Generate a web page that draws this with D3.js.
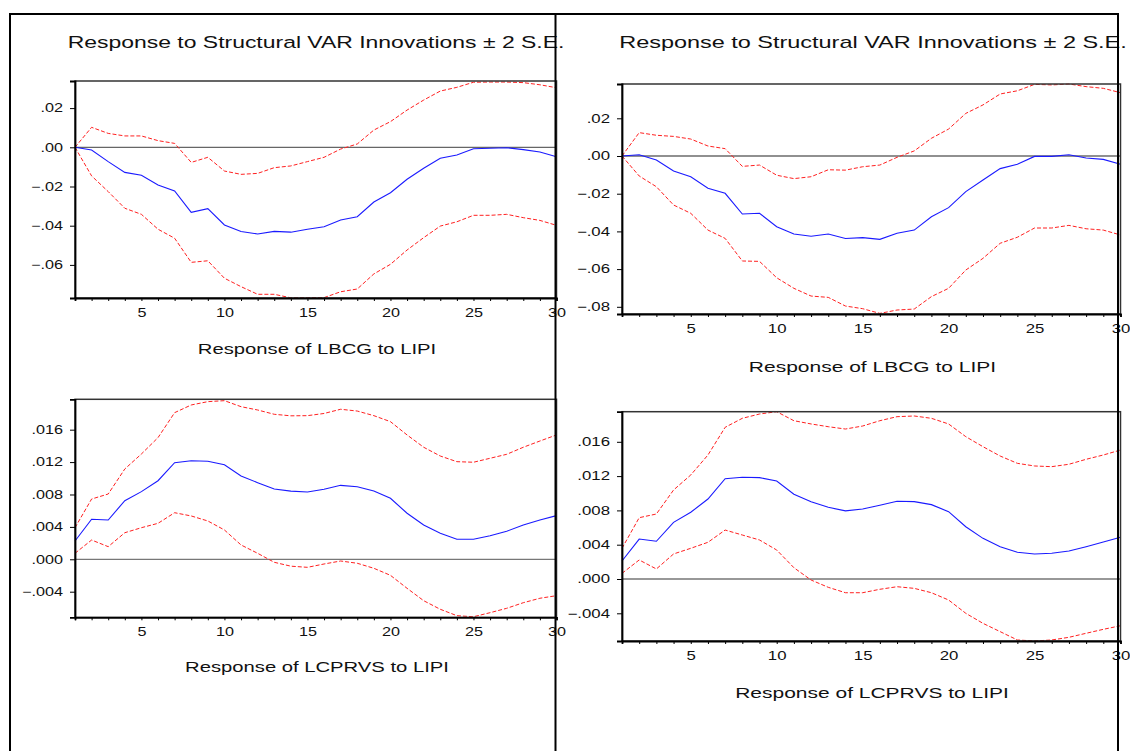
<!DOCTYPE html>
<html>
<head>
<meta charset="utf-8">
<script src="https://cdn.jsdelivr.net/npm/d3@7"></script>
<style>
  html, body { margin: 0; padding: 0; background: #fff; }
  svg { display: block; font-family: Arial, "Liberation Sans", sans-serif; }
</style>
</head>
<body>
<script>
// data
var periods = [1,2,3,4,5,6,7,8,9,10,11,12,13,14,15,16,17,18,19,20,21,22,23,24,25,26,27,28,29,30];
var xTickLabels = [5, 10, 15, 20, 25, 30];
var lbcgTicksA = [0.02, 0.00, -0.02, -0.04, -0.06];
var lbcgTicksB = [0.02, 0.00, -0.02, -0.04, -0.06, -0.08];
var lcprvsTicks = [0.016, 0.012, 0.008, 0.004, 0.000, -0.004];

var titleText = "Response to Structural VAR Innovations \u00b1 2 S.E.";
var lbcgLabel = "Response of LBCG to LIPI";
var lcprvsLabel = "Response of LCPRVS to LIPI";

// left panel
var lbcgRespA  = [0.0000,-0.0014,-0.0073,-0.0128,-0.0143,-0.0192,-0.0223,-0.0332,-0.0313,-0.0396,-0.0430,-0.0442,-0.0429,-0.0433,-0.0418,-0.0405,-0.0371,-0.0354,-0.0279,-0.0232,-0.0163,-0.0107,-0.0056,-0.0039,-0.0007,-0.0005,-0.0002,-0.0012,-0.0024,-0.0048];
var lbcgUpperA = [0.0000,0.0102,0.0071,0.0058,0.0058,0.0034,0.0020,-0.0077,-0.0051,-0.0121,-0.0138,-0.0133,-0.0104,-0.0095,-0.0073,-0.0051,-0.0009,0.0017,0.0088,0.0131,0.0190,0.0241,0.0287,0.0306,0.0332,0.0333,0.0333,0.0330,0.0319,0.0304];
var lbcgLowerA = [0.0000,-0.0146,-0.0226,-0.0311,-0.0342,-0.0418,-0.0464,-0.0587,-0.0579,-0.0668,-0.0711,-0.0750,-0.0750,-0.0768,-0.0767,-0.0767,-0.0737,-0.0723,-0.0646,-0.0597,-0.0524,-0.0461,-0.0402,-0.0380,-0.0347,-0.0347,-0.0342,-0.0359,-0.0373,-0.0398];

var lcprvsRespA  = [0.00226,0.00494,0.00485,0.00724,0.00835,0.0097,0.01193,0.01217,0.0121,0.01168,0.01028,0.00946,0.00868,0.00842,0.00831,0.00864,0.00913,0.00896,0.00843,0.00753,0.00568,0.00423,0.00321,0.00247,0.00247,0.00291,0.00346,0.00423,0.00485,0.00539];
var lcprvsUpperA = [0.0039,0.00744,0.00806,0.01115,0.0130,0.01502,0.0181,0.01905,0.01946,0.01958,0.01884,0.01843,0.0179,0.01771,0.01773,0.0180,0.01852,0.0183,0.01773,0.01699,0.01535,0.01383,0.01275,0.01205,0.01198,0.01247,0.01296,0.01383,0.0146,0.01535];
var lcprvsLowerA = [0.00074,0.00238,0.00156,0.00328,0.0039,0.00444,0.00575,0.00535,0.00473,0.00362,0.00177,0.00074,-0.00037,-0.00085,-0.00099,-0.00058,-0.00021,-0.00049,-0.00111,-0.00198,-0.00358,-0.00511,-0.00617,-0.00696,-0.00709,-0.00659,-0.00605,-0.00536,-0.00481,-0.00449];

// right panel
var lbcgRespB  = [0.0000,0.0007,-0.0021,-0.0080,-0.0110,-0.0171,-0.0198,-0.0308,-0.0304,-0.0375,-0.0414,-0.0426,-0.0414,-0.0438,-0.0433,-0.0442,-0.0410,-0.0393,-0.0322,-0.0274,-0.0189,-0.0127,-0.0067,-0.0044,-0.0002,-0.0002,0.0007,-0.0011,-0.0018,-0.0044];
var lbcgUpperB = [0.0000,0.0124,0.0110,0.0104,0.0090,0.0053,0.0039,-0.0055,-0.0048,-0.0102,-0.0120,-0.0110,-0.0073,-0.0075,-0.0057,-0.0048,-0.0007,0.0027,0.0094,0.0143,0.0226,0.0271,0.0329,0.0346,0.0380,0.0377,0.0382,0.0368,0.0359,0.0336];
var lbcgLowerB = [0.0000,-0.0106,-0.0163,-0.0260,-0.0304,-0.0393,-0.0437,-0.0557,-0.0559,-0.0646,-0.0702,-0.0743,-0.0750,-0.0796,-0.0810,-0.0835,-0.0817,-0.0812,-0.0746,-0.0702,-0.0605,-0.0543,-0.0463,-0.0431,-0.0382,-0.0382,-0.0368,-0.0386,-0.0393,-0.0419];

var lcprvsRespB  = [0.0021,0.00466,0.0044,0.00661,0.00778,0.00933,0.0117,0.01186,0.01182,0.01143,0.00988,0.00902,0.00836,0.00795,0.00816,0.0086,0.00906,0.00902,0.00867,0.00785,0.0061,0.00474,0.00377,0.00311,0.00292,0.0030,0.00327,0.00377,0.00431,0.00486];
var lcprvsUpperB = [0.00358,0.00715,0.00758,0.01038,0.01213,0.01446,0.01769,0.01874,0.01924,0.01951,0.01846,0.01808,0.01776,0.01749,0.01784,0.01846,0.01893,0.01901,0.01874,0.01808,0.0166,0.01543,0.01434,0.01349,0.01318,0.0131,0.01338,0.01396,0.01446,0.01504];
var lcprvsLowerB = [0.00066,0.00222,0.00117,0.00292,0.00358,0.00428,0.00571,0.00513,0.00455,0.00338,0.00132,-0.00012,-0.00097,-0.0016,-0.0016,-0.0012,-0.0009,-0.00109,-0.0016,-0.00245,-0.004,-0.00517,-0.00614,-0.00711,-0.00723,-0.00711,-0.0068,-0.00633,-0.00587,-0.00545];

// graph
var svg = d3.select("body").append("svg")
    .attr("width", 1130)
    .attr("height", 751);

// eviews style labels: ".02" / "-.004"
function evFmt(digits) {
  var f = d3.format("." + digits + "f");
  return function(d) { return f(d).replace("0.", ".").replace("-.", "-."); };
}

// text squeezed wider, like the scanned original
function stretchText(x, y, txt, size, sx) {
  svg.append("g")
      .attr("transform", "translate(" + x + "," + y + ") scale(" + sx + ",1)")
    .append("text")
      .attr("text-anchor", "middle")
      .attr("font-size", size)
      .attr("fill", "#111")
      .text(txt);
}

function drawChart(cfg) {
  var x = d3.scaleLinear().domain([1, 30]).range([cfg.left, cfg.right]);
  var y = d3.scaleLinear().domain(cfg.domain).range([cfg.bottom, cfg.top]);
  var g = svg.append("g");

  // zero line
  g.append("line")
      .attr("x1", cfg.left).attr("x2", cfg.right)
      .attr("y1", y(0)).attr("y2", y(0))
      .attr("stroke", cfg.zeroColor)
      .attr("stroke-width", 1.2);

  var line = d3.line()
      .x(function(d, i) { return x(periods[i]); })
      .y(function(d) { return y(d); });

  [cfg.upper, cfg.lower].forEach(function(s) {
    g.append("path")
        .attr("d", line(s))
        .attr("fill", "none")
        .attr("stroke", "#ff2020")
        .attr("stroke-width", 1)
        .attr("stroke-dasharray", "4,2");
  });
  g.append("path")
      .attr("d", line(cfg.resp))
      .attr("fill", "none")
      .attr("stroke", "#1a1aff")
      .attr("stroke-width", 1.1);

  // frame
  g.append("rect")
      .attr("x", cfg.left).attr("y", cfg.top)
      .attr("width", cfg.right - cfg.left).attr("height", cfg.bottom - cfg.top)
      .attr("fill", "none")
      .attr("stroke", "#333")
      .attr("stroke-width", 1.5);

  var yAxis = g.append("g")
      .attr("transform", "translate(" + cfg.left + ",0)")
      .call(d3.axisLeft(y).tickValues(cfg.ticks).tickFormat(evFmt(cfg.digits)).tickSize(5).tickPadding(7));
  yAxis.select(".domain").attr("stroke", "#000").attr("stroke-width", 1.8);
  yAxis.selectAll("text")
      .attr("font-size", 12)
      .attr("font-family", "Arial, 'Liberation Sans', sans-serif")
      .attr("fill", "#111")
      .attr("x", -12 / cfg.sx)
      .attr("transform", "scale(" + cfg.sx + ",1)");

  var xAxis = g.append("g")
      .attr("transform", "translate(0," + cfg.bottom + ")")
      .call(d3.axisBottom(x).tickValues(periods)
        .tickFormat(function(d) { return xTickLabels.indexOf(d) >= 0 ? d : ""; })
        .tickSize(3).tickPadding(7.5));
  xAxis.select(".domain").attr("stroke", "#000").attr("stroke-width", 1.8);
  xAxis.selectAll("text")
      .attr("font-size", 12)
      .attr("font-family", "Arial, 'Liberation Sans', sans-serif")
      .attr("fill", "#111")
      .attr("transform", "scale(" + cfg.sx + ",1)");
  xAxis.selectAll(".tick").each(function(d) {
    d3.select(this).select("text").attr("x", 0);
  });

  stretchText(cfg.labelX, cfg.labelY, cfg.label, 15, cfg.sx);
}

// left panel
stretchText(316, 48, titleText, 17, 1.35);
drawChart({left: 75, right: 556.5, top: 81, bottom: 298, domain: [-0.07689, 0.03383],
  resp: lbcgRespA, upper: lbcgUpperA, lower: lbcgLowerA, ticks: lbcgTicksA, digits: 2,
  zeroColor: "#666", sx: 1.35, label: lbcgLabel, labelX: 317, labelY: 353.5});
drawChart({left: 75, right: 556.5, top: 399.3, bottom: 617.3, domain: [-0.00716, 0.01975],
  resp: lcprvsRespA, upper: lcprvsUpperA, lower: lcprvsLowerA, ticks: lcprvsTicks, digits: 3,
  zeroColor: "#777", sx: 1.35, label: lcprvsLabel, labelX: 317, labelY: 672});

// right panel
stretchText(873, 48, titleText, 17, 1.38);
drawChart({left: 622, right: 1120.5, top: 84, bottom: 314, domain: [-0.08382, 0.0382],
  resp: lbcgRespB, upper: lbcgUpperB, lower: lbcgLowerB, ticks: lbcgTicksB, digits: 2,
  zeroColor: "#222", sx: 1.4, label: lbcgLabel, labelX: 872.5, labelY: 371.5});
drawChart({left: 622, right: 1120.5, top: 411.7, bottom: 641, domain: [-0.00723, 0.01951],
  resp: lcprvsRespB, upper: lcprvsUpperB, lower: lcprvsLowerB, ticks: lcprvsTicks, digits: 3,
  zeroColor: "#333", sx: 1.4, label: lcprvsLabel, labelX: 872, labelY: 698});

// outer frame
var frame = svg.append("g").attr("stroke", "#000").attr("stroke-width", 2);
frame.append("line").attr("x1", 10).attr("x2", 1118).attr("y1", 14).attr("y2", 14);
frame.append("line").attr("x1", 10).attr("x2", 10).attr("y1", 13).attr("y2", 751);
frame.append("line").attr("x1", 555.5).attr("x2", 555.5).attr("y1", 13).attr("y2", 751);
frame.append("line").attr("x1", 1118).attr("x2", 1118).attr("y1", 13).attr("y2", 751);
</script>
</body>
</html>
